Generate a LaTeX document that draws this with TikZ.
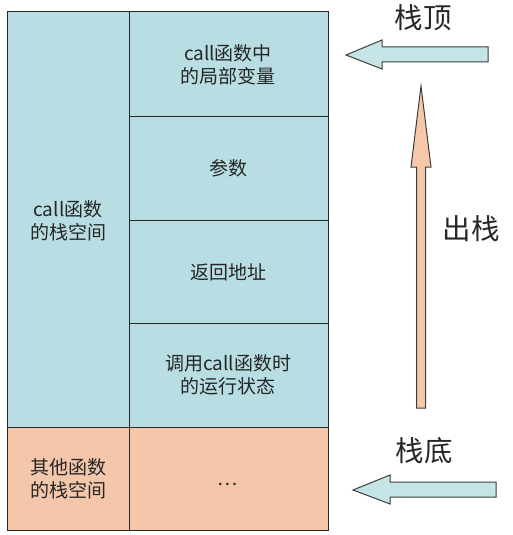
\documentclass[tikz,border=0pt]{standalone}
\usepackage{fontspec}
\setmainfont{Noto Sans CJK SC}
\definecolor{cellblue}{RGB}{184,222,227}
\definecolor{cellorange}{RGB}{244,199,170}
\definecolor{arrblue}{RGB}{196,228,230}
\definecolor{arrorange}{RGB}{246,200,170}
\definecolor{edge}{RGB}{40,40,40}
\begin{document}
\begin{tikzpicture}[x=1pt,y=-1pt,
  cell/.style={draw=edge,line width=1pt},
  lbl/.style={align=center,font=\fontsize{19}{23.5}\selectfont,text=black!85},
  biglbl/.style={font=\fontsize{28.5}{32}\selectfont,text=black!85},
  blockarrow/.style={draw=edge!90,line width=1pt,line join=miter}]
\useasboundingbox (0,0) rectangle (512,535);
% cells
\fill[cellblue] (7,12) rectangle (328,427);
\fill[cellorange] (7,427) rectangle (328,530);
\draw[cell] (7,12) rectangle (328,530);
\draw[cell] (129,12) -- (129,530);
\draw[cell] (7,427) -- (328,427);
\draw[cell] (129,116) -- (328,116);
\draw[cell] (129,220) -- (328,220);
\draw[cell] (129,323) -- (328,323);
% texts
\node[lbl] (callstack) at (68,221) {call函数\\的栈空间};
\node[lbl] (otherstack) at (68,479) {其他函数\\的栈空间};
\node[lbl] (locals) at (228,65) {call函数中\\的局部变量};
\node[lbl] (params) at (228,168) {参数};
\node[lbl] (ret) at (228,272) {返回地址};
\node[lbl] (state) at (228,375) {调用call函数时\\的运行状态};
\node[lbl] (dots) at (228,484) {…};
% top arrow
\draw[blockarrow,fill=arrblue] (488,47) -- (382,47) -- (382,40) -- (346,55) -- (382,69) -- (382,62) -- (488,62) -- cycle;
\node[biglbl] (top) at (423,18) {栈顶};
% bottom arrow
\draw[blockarrow,fill=arrblue] (496,482) -- (390,482) -- (390,475) -- (353,490) -- (390,504) -- (390,497) -- (496,497) -- cycle;
\node[biglbl] (bottom) at (424,451) {栈底};
% up arrow
\draw[blockarrow,fill=arrorange] (416.5,408) -- (416.5,167) -- (411,167) -- (421,86) -- (431,167) -- (425.5,167) -- (425.5,408) -- cycle;
\node[biglbl] (pop) at (471,229) {出栈};
\end{tikzpicture}
\end{document}
